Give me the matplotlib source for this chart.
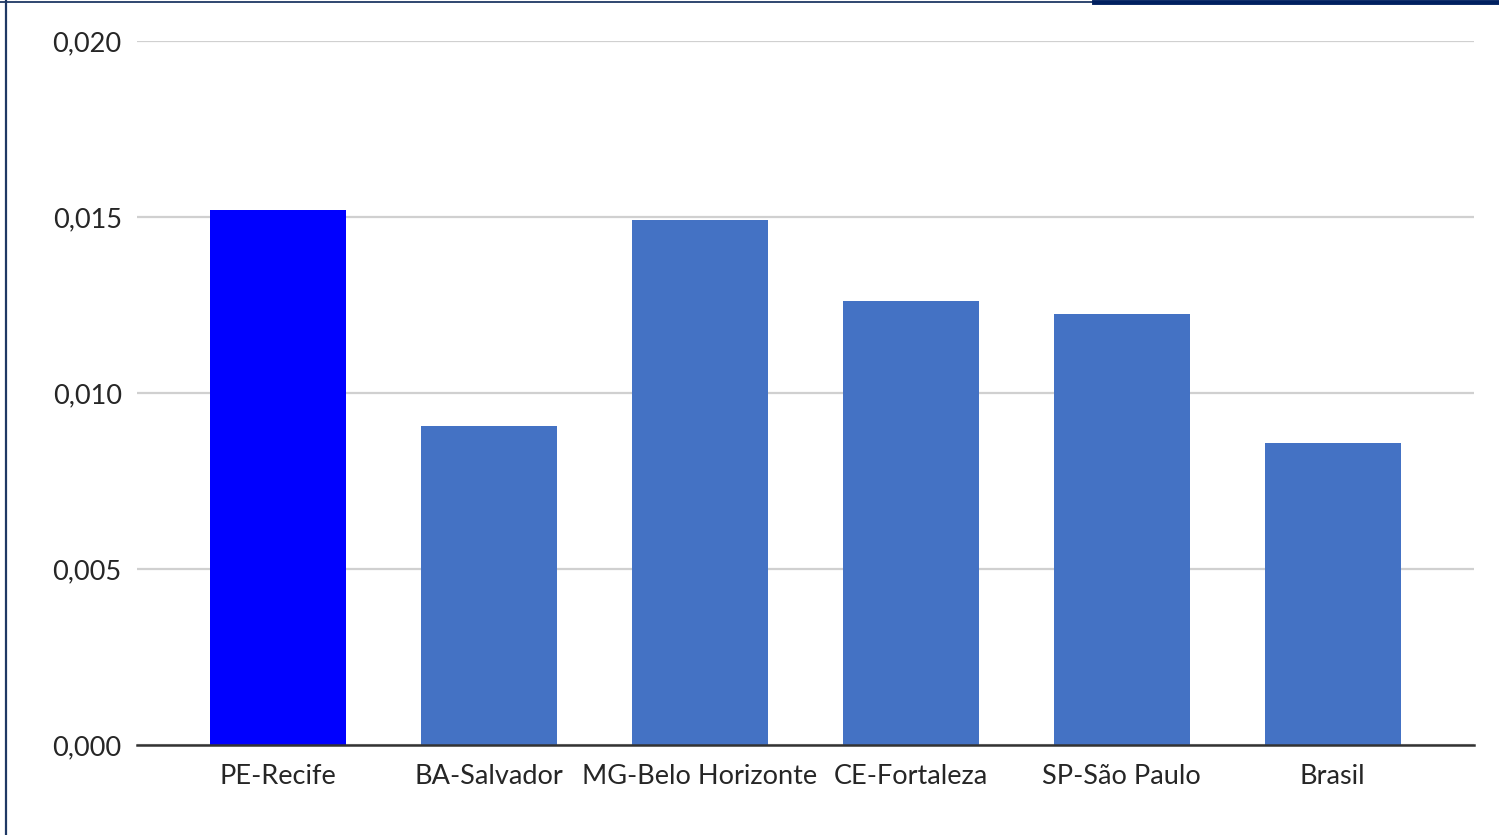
import matplotlib
matplotlib.use("Agg")
import matplotlib.pyplot as plt
from matplotlib.lines import Line2D

categories = ["PE-Recife", "BA-Salvador", "MG-Belo Horizonte", "CE-Fortaleza", "SP-São Paulo", "Brasil"]
values = [0.0152, 0.00906, 0.01491, 0.01261, 0.01224, 0.00858]
colors = ["#0000FF", "#4472C4", "#4472C4", "#4472C4", "#4472C4", "#4472C4"]
yticks = [0.000, 0.005, 0.010, 0.015, 0.020]
ytick_labels = ["0,000", "0,005", "0,010", "0,015", "0,020"]

plt.rcParams['font.family'] = ['Lato', 'DejaVu Sans']

fig = plt.figure(figsize=(14.99, 8.35), dpi=100)
W, H = 1499, 835
ax = fig.add_axes([137 / W, 1 - 745 / H, (1474 - 137) / W, (745 - 41) / H])

x = list(range(len(categories)))
ax.bar(x, values, width=0.645, color=colors, zorder=3)
ax.set_xlim(-0.67, 5.67)
ax.set_ylim(0, 0.020)
ax.set_yticks(yticks)
ax.set_yticklabels(ytick_labels)
ax.set_xticks(x)
ax.set_xticklabels(categories)
ax.tick_params(axis='both', length=0, labelsize=19.5, colors='#262626')
ax.tick_params(axis='y', pad=11)
ax.tick_params(axis='x', pad=14)
ax.grid(axis='y', color='#d0d0d0', linewidth=1.6, zorder=0)
ax.set_axisbelow(True)
for s in ['top', 'right', 'left']:
    ax.spines[s].set_visible(False)
ax.spines['bottom'].set_color('#333333')
ax.spines['bottom'].set_linewidth(1.8)
ax.spines['bottom'].set_zorder(4)

# frame decorations
fig.add_artist(Line2D([5.5 / W, 5.5 / W], [0, 1 - 1 / H], color='#1f3864', linewidth=1.6))
fig.add_artist(Line2D([0, 1094 / W], [1 - 2 / H, 1 - 2 / H], color='#1f3864', linewidth=1.3))
fig.add_artist(Line2D([1094 / W, 1], [1 - 2 / H, 1 - 2 / H], color='#002060', linewidth=3.5))

fig.savefig("out.png", dpi=100)
